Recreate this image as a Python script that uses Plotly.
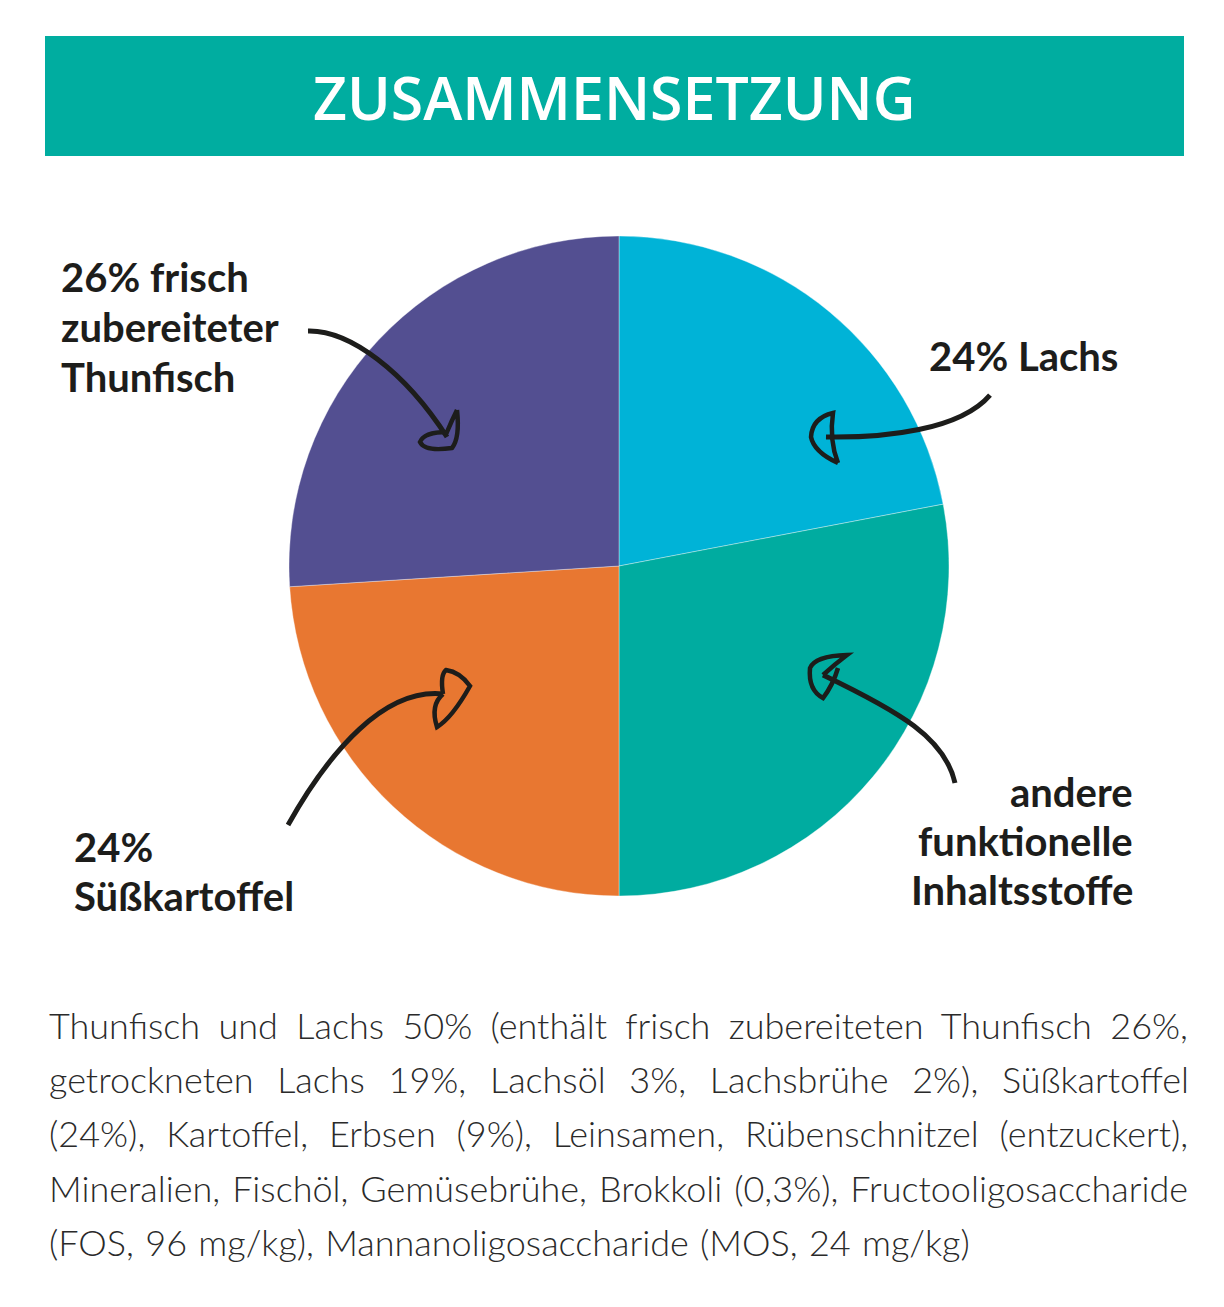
import plotly.graph_objects as go

W, H = 1224, 1307
OFF = 8  # page body margin

# ---- data ----
labels = ["Lachs", "andere funktionelle Inhaltsstoffe", "Süßkartoffel", "frisch zubereiteter Thunfisch"]
values = [22, 28, 24, 26]
colors = ["#00B3D7", "#00ACA0", "#E87731", "#534F91"]

title_text = "ZUSAMMENSETZUNG"
label_thunfisch = ["26% frisch", "zubereiteter", "Thunfisch"]
label_lachs = ["24% Lachs"]
label_suess = ["24%", "Süßkartoffel"]
label_andere = ["andere", "funktionelle", "Inhaltsstoffe"]
body_lines = [
    "Thunfisch und Lachs 50% (enthält frisch zubereiteten Thunfisch 26%,",
    "getrockneten Lachs 19%, Lachsöl 3%, Lachsbrühe 2%), Süßkartoffel",
    "(24%), Kartoffel, Erbsen (9%), Leinsamen, Rübenschnitzel (entzuckert),",
    "Mineralien, Fischöl, Gemüsebrühe, Brokkoli (0,3%), Fructooligosaccharide",
    "(FOS, 96 mg/kg), Mannanoligosaccharide (MOS, 24 mg/kg)",
]
body_word_spacing = [8.6, 13.9, 11.1, 2.2, 1.5]


def px(x):
    return (x - OFF) / W


def py(y):
    return 1 - (y - OFF) / H


def path(cmds):
    out = []
    for c in cmds:
        if isinstance(c, str):
            out.append(c)
        else:
            out.append(f"{px(c[0]):.5f},{py(c[1]):.5f}")
    return " ".join(out)


cx, cy, r = 619, 566, 330

fig = go.Figure()
fig.add_trace(go.Pie(
    labels=labels, values=values, sort=False, direction="clockwise", rotation=0,
    marker=dict(colors=colors, line=dict(color="rgba(255,255,255,0.6)", width=0.6)),
    textinfo="none", hoverinfo="label+percent", showlegend=False,
    domain=dict(x=[px(cx - r), px(cx + r)], y=[py(cy + r), py(cy - r)]),
))

shapes = []
# banner
shapes.append(dict(type="rect", xref="paper", yref="paper", x0=px(45), x1=px(1184), y0=py(156), y1=py(36),
                   fillcolor="#00ADA0", line=dict(width=0), layer="below"))

ink = "#1D1D1B"
arrow_lines = [
    ["M", (308, 331), "C", (350, 330), (405, 372), (447, 437)],
    ["M", (990, 395), "C", (960, 430), (885, 438), (826, 437)],
    ["M", (288, 825), "C", (330, 750), (385, 688), (443, 694)],
    ["M", (955, 783), "C", (945, 738), (900, 712), (823, 675)],
]
arrow_heads = [
    ["M", (457, 410), "Q", (460, 438), (452, 448), "Q", (425, 452), (420, 442), "Q", (424, 432), (447, 432), "Q", (452, 420), (457, 410)],
    ["M", (838, 463), "Q", (814, 452), (811, 437), "Q", (812, 418), (833, 413), "Q", (829, 440), (838, 463)],
    ["M", (443, 694), "Q", (440, 675), (446, 670), "Q", (460, 672), (470, 686), "Q", (452, 718), (437, 727), "Q", (430, 705), (443, 694)],
    ["M", (823, 675), "Q", (835, 664), (847, 655), "Q", (815, 656), (810, 668), "Q", (808, 690), (823, 698), "Q", (833, 685), (838, 668)],
]
for p in arrow_lines:
    shapes.append(dict(type="path", xref="paper", yref="paper", path=path(p),
                       line=dict(color=ink, width=5), fillcolor="rgba(0,0,0,0)"))
for p in arrow_heads:
    shapes.append(dict(type="path", xref="paper", yref="paper", path=path(p),
                       line=dict(color=ink, width=4.5), fillcolor="rgba(0,0,0,0)"))

ann = []
ann.append(dict(x=px(614), y=py(97), xref="paper", yref="paper", text=title_text, showarrow=False,
                xanchor="center", yanchor="middle",
                font=dict(family="Open Sans", size=59, color="white", weight=600)))

lab_font = dict(family="Lato", size=40, color=ink, weight="bold")


def add_lines(lines, x, ys, anchor):
    for t, y in zip(lines, ys):
        ann.append(dict(x=px(x), y=py(y), xref="paper", yref="paper", text=t, showarrow=False,
                        xanchor=anchor, yanchor="middle", font=lab_font))


add_lines(label_thunfisch, 59, [277, 327, 377], "left")
add_lines(label_lachs, 927, [356], "left")
add_lines(label_suess, 72, [847, 896], "left")
add_lines(label_andere, 1135, [792, 841, 890], "right")

body_font = dict(family="Lato", size=36, color="#2A2A2A", weight=300)
for t, y, ws in zip(body_lines, [1025, 1079, 1133, 1188, 1242], body_word_spacing):
    ann.append(dict(x=px(47), y=py(y), xref="paper", yref="paper",
                    text=f'<span style="word-spacing:{ws}px">{t}</span>', showarrow=False,
                    xanchor="left", yanchor="middle", font=body_font))

fig.update_layout(width=W, height=H, margin=dict(l=0, r=0, t=0, b=0),
                  paper_bgcolor="white", plot_bgcolor="white",
                  shapes=shapes, annotations=ann)
fig.write_html("out.html")
